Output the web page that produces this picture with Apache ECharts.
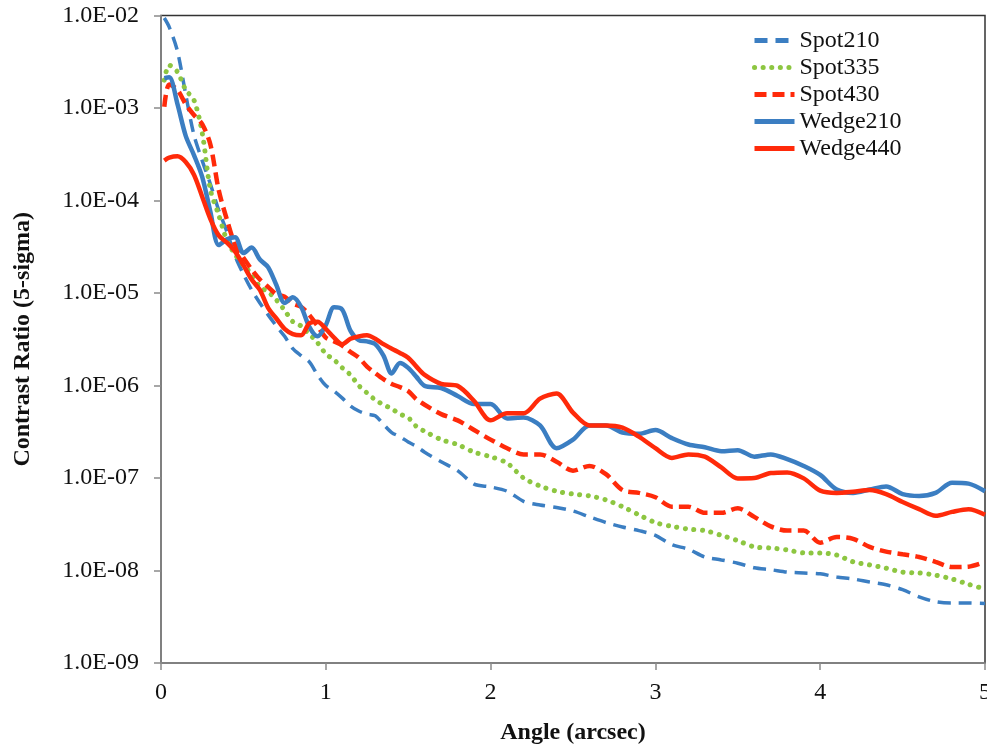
<!DOCTYPE html>
<html>
<head>
<meta charset="utf-8">
<script src="https://cdn.jsdelivr.net/npm/echarts@6/dist/echarts.min.js"></script>
<style>
html,body{margin:0;padding:0;background:#fff;}
#chart{width:987px;height:745px;}
</style>
</head>
<body>
<div id="chart"></div>
<script>
// Angle samples (arcsec)
const angles = [0.02,0.05,0.1,0.15,0.2,0.25,0.3,0.35,0.4,0.45,0.5,0.55,0.6,0.65,0.7,0.75,0.8,0.85,0.9,0.95,
  1.0,1.05,1.1,1.15,1.2,1.25,1.3,1.35,1.4,1.45,1.5,1.55,1.6,
  1.7,1.8,1.9,2.0,2.1,2.2,2.3,2.4,2.5,2.6,2.7,2.8,2.9,3.0,3.1,3.2,3.3,3.4,3.5,3.6,3.7,3.8,3.9,
  4.0,4.1,4.2,4.3,4.4,4.5,4.6,4.7,4.8,4.9,5.0];

const spot210 = [9.4e-3,7.5e-3,4.1e-3,1.4e-3,5.1e-4,2.7e-4,1.5e-4,7.9e-5,4.6e-5,2.5e-5,
  1.6e-5,1.08e-5,7.8e-6,5.8e-6,4.4e-6,3.4e-6,2.5e-6,2.1e-6,1.8e-6,1.3e-6,
  1.0e-6,8.7e-7,7.3e-7,6.0e-7,5.3e-7,4.9e-7,4.7e-7,3.8e-7,3.1e-7,2.8e-7,2.45e-7,2.2e-7,1.9e-7,
  1.5e-7,1.2e-7,8.6e-8,8.0e-8,7.2e-8,5.6e-8,5.1e-8,4.8e-8,4.4e-8,3.8e-8,3.3e-8,2.95e-8,2.7e-8,2.4e-8,
  1.9e-8,1.7e-8,1.4e-8,1.3e-8,1.2e-8,1.07e-8,1.02e-8,9.6e-9,9.4e-9,9.2e-9,8.5e-9,8.1e-9,7.5e-9,7.0e-9,
  6.2e-9,5.2e-9,4.6e-9,4.45e-9,4.45e-9,4.4e-9];

const spot335 = [2.0e-3,2.9e-3,2.45e-3,1.57e-3,1.22e-3,5.4e-4,1.3e-4,7.0e-5,3.7e-5,2.6e-5,
  2.0e-5,1.6e-5,1.16e-5,1.03e-5,8.4e-6,6.5e-6,4.9e-6,4.4e-6,3.6e-6,2.9e-6,
  2.2e-6,1.9e-6,1.55e-6,1.3e-6,1.0e-6,8.3e-7,7.0e-7,6.2e-7,5.6e-7,4.9e-7,4.5e-7,3.6e-7,3.2e-7,
  2.6e-7,2.3e-7,1.9e-7,1.7e-7,1.45e-7,1.0e-7,8.2e-8,7.2e-8,6.7e-8,6.4e-8,5.8e-8,4.9e-8,4.0e-8,3.3e-8,
  3.0e-8,2.8e-8,2.7e-8,2.4e-8,2.1e-8,1.8e-8,1.75e-8,1.67e-8,1.55e-8,1.55e-8,1.47e-8,1.24e-8,1.15e-8,1.06e-8,
  9.6e-9,9.4e-9,8.9e-9,8.1e-9,7.1e-9,6.3e-9];

const spot430 = [1.03e-3,1.8e-3,1.57e-3,1.1e-3,8.4e-4,6.7e-4,4.0e-4,1.3e-4,6.2e-5,3.3e-5,
  2.4e-5,1.8e-5,1.4e-5,1.16e-5,9.7e-6,9.1e-6,7.7e-6,7.1e-6,5.8e-6,4.4e-6,
  3.3e-6,3.0e-6,2.7e-6,2.3e-6,2.0e-6,1.6e-6,1.36e-6,1.17e-6,1.04e-6,9.6e-7,8.7e-7,7.1e-7,6.2e-7,
  4.9e-7,4.2e-7,3.3e-7,2.6e-7,2.1e-7,1.8e-7,1.8e-7,1.5e-7,1.2e-7,1.35e-7,1.1e-7,7.4e-8,6.9e-8,6.2e-8,
  4.9e-8,4.9e-8,4.2e-8,4.2e-8,4.7e-8,3.8e-8,3.0e-8,2.7e-8,2.7e-8,2.0e-8,2.3e-8,2.2e-8,1.8e-8,1.6e-8,
  1.5e-8,1.4e-8,1.24e-8,1.09e-8,1.1e-8,1.24e-8];

const wedge210 = [2.1e-3,2.15e-3,1.1e-3,5.0e-4,3.1e-4,1.8e-4,7.5e-5,3.3e-5,3.8e-5,4.0e-5,
  2.7e-5,3.1e-5,2.3e-5,1.9e-5,1.22e-5,7.8e-6,9.0e-6,7.1e-6,4.3e-6,3.4e-6,
  4.5e-6,7.0e-6,6.6e-6,3.9e-6,3.1e-6,3.0e-6,2.8e-6,2.1e-6,1.35e-6,1.75e-6,1.55e-6,1.24e-6,9.9e-7,
  9.4e-7,7.7e-7,6.3e-7,6.3e-7,4.4e-7,4.5e-7,3.7e-7,2.1e-7,2.6e-7,3.7e-7,3.7e-7,3.1e-7,3.0e-7,3.3e-7,
  2.7e-7,2.3e-7,2.15e-7,1.95e-7,2.0e-7,1.7e-7,1.8e-7,1.6e-7,1.35e-7,1.08e-7,7.5e-8,6.9e-8,7.5e-8,8.1e-8,
  6.7e-8,6.4e-8,6.9e-8,8.9e-8,8.7e-8,7.2e-8];

const wedge440 = [2.7e-4,2.9e-4,3.0e-4,2.6e-4,1.9e-4,1.1e-4,6.3e-5,4.2e-5,3.5e-5,2.8e-5,
  2.0e-5,1.4e-5,1.08e-5,6.9e-6,5.3e-6,4.1e-6,3.6e-6,3.5e-6,4.7e-6,4.9e-6,
  4.1e-6,3.3e-6,2.8e-6,3.2e-6,3.4e-6,3.5e-6,3.2e-6,2.8e-6,2.5e-6,2.25e-6,2.0e-6,1.6e-6,1.3e-6,
  1.04e-6,9.9e-7,6.8e-7,4.2e-7,5.0e-7,5.0e-7,7.2e-7,8.2e-7,5.1e-7,3.7e-7,3.7e-7,3.5e-7,2.8e-7,2.1e-7,
  1.65e-7,1.8e-7,1.7e-7,1.3e-7,9.9e-8,1.0e-7,1.13e-7,1.15e-7,9.9e-8,7.3e-8,6.9e-8,7.1e-8,7.4e-8,6.7e-8,
  5.5e-8,4.6e-8,3.9e-8,4.3e-8,4.6e-8,4.0e-8];

const seriesNames = ['Spot210','Spot335','Spot430','Wedge210','Wedge440'];
const xTickLabels = ['0','1','2','3','4','5'];
const yTickLabels = ['1.0E-09','1.0E-08','1.0E-07','1.0E-06','1.0E-05','1.0E-04','1.0E-03','1.0E-02'];

const BLUE = '#3b7ec2', GREEN = '#8dc641', RED = '#ff2a0a';
const SERIF = '"Liberation Serif","Times New Roman",serif';

function pairs(ys){ return angles.map((a,i)=>[a, ys[i]]); }

const chart = echarts.init(document.getElementById('chart'), null, {renderer:'canvas'});
const option = {
  animation: false,
  backgroundColor: '#ffffff',
  grid: {left:161, right:2, top:15.5, bottom:82, outerBoundsMode:'none', containLabel:false,
    show:true, borderColor:'#333', borderWidth:1.5, backgroundColor:'transparent'},
  legend: {
    orient:'vertical', left:752, top:27, padding:0, itemWidth:40, itemHeight:14, itemGap:0,
    itemStyle:{color:'rgba(0,0,0,0)', borderColor:'rgba(0,0,0,0)', borderWidth:0, opacity:0},
    lineStyle:{width:5},
    textStyle:{fontFamily:SERIF, fontSize:24, color:'#111', lineHeight:27},
    data: seriesNames
  },
  xAxis: {
    type:'value', min:0, max:5, interval:1,
    axisLine:{onZero:false, lineStyle:{color:'#8a8a8a', width:1.5}},
    axisTick:{show:true, length:7, lineStyle:{color:'#8a8a8a', width:1.5}},
    axisLabel:{margin:18, fontFamily:SERIF, fontSize:24, color:'#111', formatter:(v)=>xTickLabels[Math.round(v)]},
    splitLine:{show:false},
    name:'Angle (arcsec)', nameLocation:'middle', nameGap:58,
    nameTextStyle:{fontFamily:SERIF, fontWeight:'bold', fontSize:24, color:'#111'}
  },
  yAxis: {
    type:'log', logBase:10, min:1e-9, max:1e-2, interval:1,
    axisLine:{show:true, onZero:false, lineStyle:{color:'#8a8a8a', width:1.5}},
    axisTick:{show:true, length:7, lineStyle:{color:'#8a8a8a', width:1.5}},
    minorTick:{show:false},
    axisLabel:{margin:22, fontFamily:SERIF, fontSize:24, color:'#111',
      formatter:(v)=>yTickLabels[Math.round(Math.log10(v))+9]},
    splitLine:{show:false},
    name:'Contrast Ratio (5-sigma)', nameLocation:'middle', nameGap:126, nameRotate:90,
    nameTextStyle:{fontFamily:SERIF, fontWeight:'bold', fontSize:24, color:'#111'}
  },
  series: [
    {name:'Spot210', type:'line', data:pairs(spot210), showSymbol:false, symbol:'none', smooth:0.3,
      itemStyle:{color:BLUE}, lineStyle:{color:BLUE, width:3.5, type:[13,8]}},
    {name:'Spot335', type:'line', data:pairs(spot335), showSymbol:false, symbol:'none', smooth:0.3,
      itemStyle:{color:GREEN}, lineStyle:{color:GREEN, width:5, type:[0.1,8.5], cap:'round'}},
    {name:'Spot430', type:'line', data:pairs(spot430), showSymbol:false, symbol:'none', smooth:0.3,
      itemStyle:{color:RED}, lineStyle:{color:RED, width:4.5, type:[12,6]}},
    {name:'Wedge210', type:'line', data:pairs(wedge210), showSymbol:false, symbol:'none', smooth:0.3,
      itemStyle:{color:BLUE}, lineStyle:{color:BLUE, width:4.5}},
    {name:'Wedge440', type:'line', data:pairs(wedge440), showSymbol:false, symbol:'none', smooth:0.3,
      itemStyle:{color:RED}, lineStyle:{color:RED, width:4.5}}
  ]
};
chart.setOption(option);
</script>
</body>
</html>
